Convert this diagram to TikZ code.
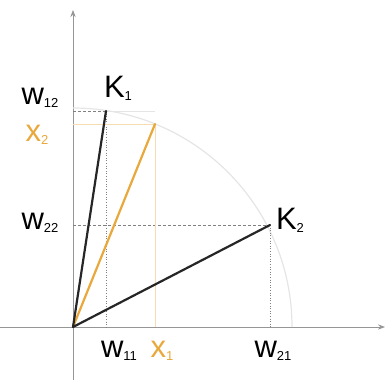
\documentclass[tikz,border=0pt]{standalone}
\usepackage{fontspec}
\setmainfont{Liberation Sans}
\usetikzlibrary{arrows.meta}
\definecolor{xorange}{RGB}{232,168,60}
\definecolor{axisgray}{RGB}{150,150,150}
\newcommand{\lowsub}[1]{\raisebox{-3pt}{\fontsize{13}{14}\selectfont #1}}
\tikzset{
  lbl/.style={font=\fontsize{31}{33}\selectfont, inner sep=1pt},
  proj/.style={densely dashed, gray, line width=0.6pt},
  vec/.style={line width=2.2pt, line cap=round}
}
\begin{document}
\begin{tikzpicture}[x=1pt, y=1pt, >=Stealth]
  \useasboundingbox (0,0) rectangle (387,380);
  % 1. axes
  \coordinate (O) at (73,53);
  \coordinate (xend) at (385,53);
  \coordinate (yend) at (73,370);
  \draw[axisgray, line width=0.9pt, ->] (0,53) -- (xend);
  \draw[axisgray, line width=0.9pt, ->] (73,0) -- (yend);

  % 2. unit arc
  \draw[black!10, line width=1.2pt] (73,272) arc (90:0:219);

  % 3. points
  \coordinate (K1) at (106,269);
  \coordinate (K2) at (270,155);
  \coordinate (X) at (155,256);

  % 4. projections
  \draw[proj] (O |- K1) -- (K1);
  \draw[proj, dotted] (K1) -- (K1 |- O);
  \draw[proj] (O |- K2) -- (K2);
  \draw[proj, dotted] (K2) -- (K2 |- O);
  \draw[xorange!40, line width=0.8pt] (O |- X) -- (X);
  \draw[xorange!40, line width=0.8pt] (X) -- (X |- O);
  \draw[black!10, line width=0.8pt] (K1) -- (X |- K1);

  % 5. vectors
  \draw[vec, xorange] (O) -- (X);
  \draw[vec, black!85] (O) -- (K1);
  \draw[vec, black!85] (O) -- (K2);

  % 6. labels
  \node[lbl] (k1lbl) at (118,292) {K\lowsub{1}};
  \node[lbl] (k2lbl) at (290,160) {K\lowsub{2}};
  \node[lbl] (w12) at (40,282) {w\lowsub{12}};
  \node[lbl, xorange] (x2) at (37,245) {x\lowsub{2}};
  \node[lbl] (w22) at (40,157) {w\lowsub{22}};
  \node[lbl] (w11) at (119,29) {w\lowsub{11}};
  \node[lbl, xorange] (x1) at (162,29) {x\lowsub{1}};
  \node[lbl] (w21) at (273,29) {w\lowsub{21}};
\end{tikzpicture}
\end{document}
